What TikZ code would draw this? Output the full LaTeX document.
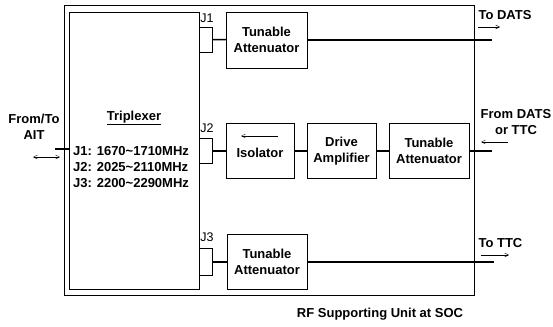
\documentclass[tikz,border=0pt]{standalone}
\usepackage{fontspec}
\setmainfont{Liberation Sans}
\usetikzlibrary{arrows.meta, positioning}

\begin{document}
\begin{tikzpicture}[x=1pt, y=-1pt, font=\bfseries\fontsize{13}{16}\selectfont,
    blk/.style={draw, thin, align=center, inner sep=0pt},
    port/.style={draw, thin, minimum width=13pt, minimum height=25pt, inner sep=0pt},
    sig/.style={line width=1.4pt},
    tip/.tip={Straight Barb[length=4pt, width=4pt]},
    arr/.style={-tip, thin},
    jlab/.style={font=\fontsize{12.5}{14}\selectfont}]
    \useasboundingbox (0,0) rectangle (553,326);
    % outer unit and triplexer
    \node[draw, thin, minimum width=410pt, minimum height=290pt, inner sep=0pt] (unit) at (269,150) {};
    \node[blk, minimum width=130pt, minimum height=277pt] (trip) at (134,150.5) {};
    \node (tname) at (134,118) {\underline{Triplexer}};
    \node[anchor=west, align=left, inner sep=0pt] (bands) at (73,167) {J1: 1670\textasciitilde1710MHz\\J2: 2025\textasciitilde2110MHz\\J3: 2200\textasciitilde2290MHz};
    % ports
    \node[port] (p1) at (205.5,39.5) {};
    \node[port] (p2) at (205.5,151) {};
    \node[port, minimum height=27pt] (p3) at (205.5,262) {};
    \node[jlab] at (207,18) {J1};
    \node[jlab] at (207,128) {J2};
    \node[jlab] at (207,237) {J3};
    % blocks
    \node[blk, minimum width=81pt, minimum height=56pt] (att1) at (266.5,40) {Tunable\\Attenuator};
    \node[blk, minimum width=68pt, minimum height=55pt] (iso) at (260,151) {\\[-2pt]Isolator};
    \node[blk, minimum width=69pt, minimum height=55pt] (amp) at (341.5,151) {Drive\\Amplifier};
    \node[blk, minimum width=80pt, minimum height=55pt] (att2) at (429,151) {Tunable\\Attenuator};
    \node[blk, minimum width=80pt, minimum height=55pt] (att3) at (267,262) {Tunable\\Attenuator};
    % ends
    \coordinate (dats) at (492,40);
    \coordinate (datsin) at (492,151);
    \coordinate (ttc) at (494,262);
    \coordinate (ait) at (55,149);
    % signal lines
    \draw[sig] (p1) -- (att1);
    \draw[sig] (p2) -- (iso) -- (amp) -- (att2) -- (datsin);
    \draw[sig] (p3) -- (att3);
    \draw[sig] (att1) -- (dats);
    \draw[sig] (att3) -- (ttc);
    \draw[sig] (ait) -- (ait -| trip.west);
    % direction arrows
    \draw[arr] (278,136) -- (241,136);
    \draw[arr] (478,27) -- (500,27);
    \draw[arr] (508,142) -- (481,142);
    \draw[arr] (481,255) -- (509,255);
    \draw[thin, tip-tip] (33,157) -- (60,157);
    % labels
    \node[anchor=west] at (475,15) {To DATS};
    \node[align=center] at (516,122) {From DATS\\or TTC};
    \node[anchor=west] at (475,243) {To TTC};
    \node[align=center] at (34,127) {From/To\\AIT};
    \node at (380,314) {RF Supporting Unit at SOC};
\end{tikzpicture}
\end{document}
